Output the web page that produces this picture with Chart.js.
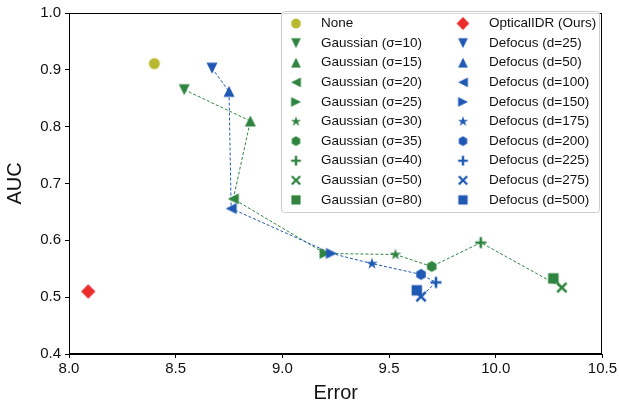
<!DOCTYPE html>
<html>
<head>
<meta charset="utf-8">
<script src="https://cdn.jsdelivr.net/npm/chart.js@4.4.1/dist/chart.umd.min.js"></script>
<style>
  html, body { margin: 0; padding: 0; background: #fff; }
</style>
</head>
<body>
<canvas id="chart" width="619" height="408"></canvas>
<script>
// ---- data ----
const gaussLabels = ["Gaussian (σ=10)", "Gaussian (σ=15)", "Gaussian (σ=20)", "Gaussian (σ=25)", "Gaussian (σ=30)",
                     "Gaussian (σ=35)", "Gaussian (σ=40)", "Gaussian (σ=50)", "Gaussian (σ=80)"];
const gaussError = [8.54, 8.85, 8.77, 9.20, 9.53, 9.70, 9.93, 10.31, 10.27];
const gaussAuc   = [0.865, 0.810, 0.673, 0.577, 0.575, 0.554, 0.596, 0.517, 0.533];

const defocusLabels = ["Defocus (d=25)", "Defocus (d=50)", "Defocus (d=100)", "Defocus (d=150)", "Defocus (d=175)",
                       "Defocus (d=200)", "Defocus (d=225)", "Defocus (d=275)", "Defocus (d=500)"];
const defocusError = [8.67, 8.75, 8.76, 9.23, 9.42, 9.65, 9.72, 9.65, 9.63];
const defocusAuc   = [0.903, 0.862, 0.656, 0.577, 0.559, 0.540, 0.526, 0.501, 0.512];

const noneError = [8.40];
const noneAuc   = [0.911];
const oursError = [8.09];
const oursAuc   = [0.510];

const errorTicks = [8.0, 8.5, 9.0, 9.5, 10.0, 10.5];
const aucTicks   = [0.4, 0.5, 0.6, 0.7, 0.8, 0.9, 1.0];

// ---- colours / marker shapes ----
const GREEN = "#2f8540";
const BLUE = "#1f59b3";
const OLIVE = "#b8b82e";
const RED = "#ec2b2b";
const shapes = ["triDown", "triUp", "triLeft", "triRight", "star", "hex", "plus", "x", "square"];

// build a marker image (like matplotlib markers) on a small canvas
function marker(shape, color, s) {
  const size = 18;
  const c = document.createElement("canvas");
  c.width = c.height = size;
  const g = c.getContext("2d");
  g.translate(size / 2, size / 2);
  g.fillStyle = color;
  g.strokeStyle = color;
  const r = s / 2;
  const poly = pts => {
    g.beginPath();
    pts.forEach((p, i) => i ? g.lineTo(p[0], p[1]) : g.moveTo(p[0], p[1]));
    g.closePath();
    g.fill();
  };
  const tri = ang => {
    g.save();
    g.rotate(ang);
    poly([[0, -r], [-r, r], [r, r]]);
    g.restore();
  };
  switch (shape) {
    case "circle":
      g.beginPath(); g.arc(0, 0, r, 0, Math.PI * 2); g.fill(); break;
    case "triUp": tri(0); break;
    case "triDown": tri(Math.PI); break;
    case "triLeft": tri(-Math.PI / 2); break;
    case "triRight": tri(Math.PI / 2); break;
    case "star": {
      const pts = [];
      for (let i = 0; i < 10; i++) {
        const a = -Math.PI / 2 + i * Math.PI / 5;
        const rr = i % 2 ? r * 0.42 : r * 1.1;
        pts.push([rr * Math.cos(a), rr * Math.sin(a)]);
      }
      poly(pts); break;
    }
    case "hex": {
      const pts = [];
      for (let i = 0; i < 6; i++) {
        const a = -Math.PI / 2 + i * Math.PI / 3;
        pts.push([r * Math.cos(a), r * Math.sin(a)]);
      }
      poly(pts); break;
    }
    case "plus":
      g.lineWidth = 2.6;
      g.beginPath(); g.moveTo(-r, 0); g.lineTo(r, 0); g.moveTo(0, -r); g.lineTo(0, r); g.stroke(); break;
    case "x":
      g.lineWidth = 2.6;
      g.beginPath(); g.moveTo(-r * 0.85, -r * 0.85); g.lineTo(r * 0.85, r * 0.85);
      g.moveTo(r * 0.85, -r * 0.85); g.lineTo(-r * 0.85, r * 0.85); g.stroke(); break;
    case "square":
      g.fillRect(-r * 0.95, -r * 0.95, r * 1.9, r * 1.9); break;
    case "diamond":
      poly([[0, -r * 1.3], [r * 1.3, 0], [0, r * 1.3], [-r * 1.3, 0]]); break;
  }
  return c;
}

function pointSet(label, xs, ys, img, order) {
  return {
    label: label,
    data: xs.map((x, i) => ({ x: x, y: ys[i] })),
    pointStyle: img,
    pointRadius: 6,
    showLine: false,
    order: order
  };
}

const datasets = [];
// dashed connection lines
datasets.push({
  label: "_gline", data: gaussError.map((x, i) => ({ x: x, y: gaussAuc[i] })),
  showLine: true, pointRadius: 0, borderColor: GREEN, borderWidth: 1, borderDash: [3, 2], order: 5
});
datasets.push({
  label: "_bline", data: defocusError.map((x, i) => ({ x: x, y: defocusAuc[i] })),
  showLine: true, pointRadius: 0, borderColor: BLUE, borderWidth: 1, borderDash: [3, 2], order: 4
});

const legendLeft = [];
const legendRight = [];
const noneImg = marker("circle", OLIVE, 11);
datasets.push(pointSet("None", noneError, noneAuc, noneImg, 2));
legendLeft.push(["None", noneImg]);
const oursImg = marker("diamond", RED, 11);
datasets.push(pointSet("OpticalIDR (Ours)", oursError, oursAuc, oursImg, 1));
legendRight.push(["OpticalIDR (Ours)", oursImg]);
gaussLabels.forEach((lab, i) => {
  const img = marker(shapes[i], GREEN, 11);
  datasets.push(pointSet(lab, [gaussError[i]], [gaussAuc[i]], img, 3));
  legendLeft.push([lab, img]);
});
defocusLabels.forEach((lab, i) => {
  const img = marker(shapes[i], BLUE, 11);
  datasets.push(pointSet(lab, [defocusError[i]], [defocusAuc[i]], img, 2));
  legendRight.push([lab, img]);
});

// frame around plot + legend box drawn by hand (two columns, column-major)
const framePlugin = {
  id: "frame",
  afterDraw(chart) {
    const ctx = chart.ctx;
    const a = chart.chartArea;
    ctx.save();
    ctx.strokeStyle = "#000";
    ctx.lineWidth = 1;
    ctx.strokeRect(Math.round(a.left) + 0.5, Math.round(a.top) + 0.5,
                   Math.round(a.right - a.left) - 1, Math.round(a.bottom - a.top) - 1);

    // legend
    const bx = 281, by = 11, bw = 318, bh = 201;
    ctx.fillStyle = "rgba(255,255,255,0.85)";
    ctx.strokeStyle = "#cccccc";
    ctx.beginPath();
    ctx.roundRect(bx + 0.5, by + 0.5, bw, bh, 3);
    ctx.fill();
    ctx.stroke();
    ctx.font = "13.5px 'Liberation Sans', Arial, sans-serif";
    ctx.fillStyle = "#111";
    ctx.textBaseline = "middle";
    const rowY = i => 23.5 + i * 19.6;
    const ms = 16;
    legendLeft.forEach((e, i) => {
      ctx.drawImage(e[1], 296 - ms / 2, rowY(i) - ms / 2, ms, ms);
      ctx.fillText(e[0], 321, rowY(i));
    });
    legendRight.forEach((e, i) => {
      ctx.drawImage(e[1], 463 - ms / 2, rowY(i) - ms / 2, ms, ms);
      ctx.fillText(e[0], 489, rowY(i));
    });
    ctx.restore();
  }
};

const tickFont = { family: "'Liberation Sans', Arial, sans-serif", size: 15 };
const titleFont = { family: "'Liberation Sans', Arial, sans-serif", size: 20 };

new Chart(document.getElementById("chart"), {
  type: "scatter",
  data: { datasets: datasets },
  options: {
    responsive: false,
    animation: false,
    devicePixelRatio: 1,
    layout: { padding: { left: 0, right: 15, top: 7, bottom: 0 } },
    plugins: { legend: { display: false }, tooltip: { enabled: false } },
    scales: {
      x: {
        type: "linear",
        min: 8.0, max: 10.5,
        afterBuildTicks: s => { s.ticks = errorTicks.map(v => ({ value: v })); },
        afterFit: s => { s.height = 54; },
        ticks: { color: "#111", font: tickFont, padding: 2, maxRotation: 0, callback: v => v.toFixed(1) },
        grid: { drawOnChartArea: false, drawTicks: true, tickLength: 4, color: "#000" },
        border: { display: true, color: "#000" },
        title: { display: true, text: "Error", color: "#111", font: titleFont, padding: { top: 2, bottom: 3 } }
      },
      y: {
        type: "linear",
        min: 0.4, max: 1.0,
        afterBuildTicks: s => { s.ticks = aucTicks.map(v => ({ value: v })); },
        afterFit: s => { s.width = 69; },
        ticks: { color: "#111", font: tickFont, padding: 4, callback: v => v.toFixed(1) },
        grid: { drawOnChartArea: false, drawTicks: true, tickLength: 4, color: "#000" },
        border: { display: true, color: "#000" },
        title: { display: true, text: "AUC", color: "#111", font: titleFont, padding: { top: 3, bottom: 0 } }
      }
    }
  },
  plugins: [framePlugin]
});
</script>
</body>
</html>
